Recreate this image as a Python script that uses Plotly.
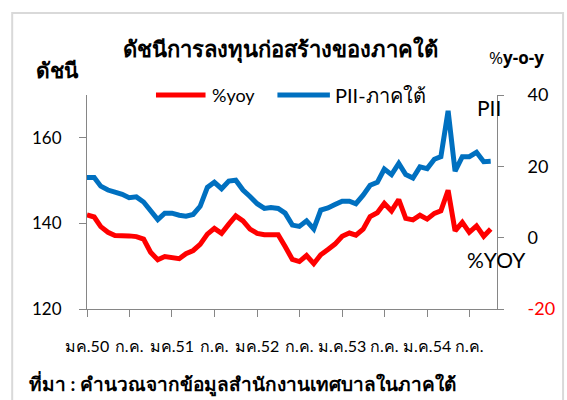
import pandas as pd
import plotly.graph_objects as go

# ---------------- data ----------------
months = pd.date_range("2007-01-01", periods=58, freq="MS")

pii_south = [150.7, 150.7, 148.7, 147.8, 147.3, 146.8, 146.0, 146.2, 145.0, 143.1,
             140.9, 142.4, 142.4, 141.9, 141.7, 142.1, 144.0, 148.4, 149.6, 148.1,
             149.9, 150.1, 147.8, 146.3, 144.6, 143.5, 143.7, 143.5, 142.4, 139.6,
             139.3, 140.6, 138.7, 143.1, 143.6, 144.4, 145.2, 145.2, 144.6, 146.6,
             148.9, 149.6, 152.7, 151.4, 154.0, 151.4, 150.6, 153.2, 152.8, 155.0,
             155.6, 166.3, 152.2, 155.6, 155.6, 156.6, 154.4, 154.5]

yoy = [6.4, 5.8, 3.1, 1.5, 0.6, 0.7, 0.5, 0.3, -0.4, -4.1,
       -6.2, -5.3, -5.5, -5.9, -4.5, -3.6, -1.9, 1.0, 2.6, 1.2,
       3.8, 6.1, 4.7, 2.4, 1.2, 0.8, 0.8, 0.8, -2.5, -6.1,
       -6.7, -5.0, -7.3, -4.8, -3.3, -1.8, 0.4, 1.3, 0.7, 2.4,
       5.9, 7.0, 9.6, 7.5, 10.7, 5.4, 5.0, 6.3, 5.2, 6.8,
       7.5, 13.3, 1.9, 4.3, 1.5, 3.3, 0.4, 2.4]

tick_dates = ["2007-01-01", "2007-07-01", "2008-01-01", "2008-07-01", "2009-01-01",
              "2009-07-01", "2010-01-01", "2010-07-01", "2011-01-01", "2011-07-01"]
tick_text = ["มค.50", "ก.ค.", "มค.51", "ก.ค.", "มค.52",
             "ก.ค.", "ม.ค.53", "ก.ค.", "ม.ค.54", "ก.ค."]

left_ticks = [120, 140, 160]
right_ticks = [-20, 0, 20, 40]
right_tick_text = ["<span style='color:#FF0000'>-20</span>", "0", "20", "40"]

title_text = "ดัชนีการลงทุนก่อสร้างของภาคใต้"
left_title = "ดัชนี"
right_title = "%<b>y-o-y</b>"
series_names = ["%yoy", "PII-ภาคใต้"]
source_text = "ที่มา : คำนวณจากข้อมูลสำนักงานเทศบาลในภาคใต้"

RED = "#FF0000"
BLUE = "#0070C0"
AXIS = "#868686"
FONT = "Lato, Tahoma, sans-serif"
FONT_BOLD_LATIN = "'Open Sans', Lato, sans-serif"

W, H = 567, 400
L, R, T, B = 87, 58, 95, 91
PW, PH = W - L - R, H - T - B


def px(x):
    return (x - L) / PW


def py(y):
    return (H - B - y) / PH


fig = go.Figure()
fig.add_trace(go.Scatter(x=months, y=pii_south, name=series_names[1], mode="lines",
                         line=dict(color=BLUE, width=5), yaxis="y"))
fig.add_trace(go.Scatter(x=months, y=yoy, name=series_names[0], mode="lines",
                         line=dict(color=RED, width=5), yaxis="y2"))

fig.update_layout(
    width=W, height=H,
    margin=dict(l=L, r=R, t=T, b=B),
    paper_bgcolor="white", plot_bgcolor="white",
    showlegend=False,
    font=dict(family=FONT, color="black"),
    xaxis=dict(type="date", range=["2007-01-01", "2011-10-28"],
               tickvals=tick_dates, ticktext=tick_text,
               showgrid=False, zeroline=False, showline=True, linecolor=AXIS, linewidth=1,
               ticks="outside", ticklen=7, tickcolor=AXIS,
               tickfont=dict(size=16, family=FONT), ticklabelstandoff=16),
    yaxis=dict(range=[120, 170], tickvals=left_ticks,
               showgrid=False, zeroline=False, showline=True, linecolor=AXIS, linewidth=1,
               ticks="outside", ticklen=7, tickcolor=AXIS,
               tickfont=dict(size=17, family=FONT),
               ticklabelstandoff=14),
    yaxis2=dict(range=[-20, 40], tickvals=right_ticks, ticktext=right_tick_text,
                overlaying="y", side="right", anchor="x",
                showgrid=False, zeroline=False, showline=True, linecolor=AXIS, linewidth=1,
                ticks="outside", ticklen=6, tickcolor=AXIS,
                tickfont=dict(size=18, family=FONT),
                ticklabelstandoff=20),
)

shapes = [
    # outer chart frame
    dict(type="rect", xref="paper", yref="paper",
         x0=px(10), x1=px(W + 10), y0=py(H + 10), y1=py(13),
         line=dict(color="#D9D9D9", width=2), fillcolor="rgba(0,0,0,0)", layer="below"),
    # legend samples
    dict(type="line", xref="paper", yref="paper", x0=px(158), x1=px(209), y0=py(95), y1=py(95),
         line=dict(color=RED, width=5)),
    dict(type="line", xref="paper", yref="paper", x0=px(283), x1=px(337), y0=py(95), y1=py(95),
         line=dict(color=BLUE, width=5)),
]
fig.update_layout(shapes=shapes)

ann = [
    dict(text="<b>" + title_text + "</b>", x=px(286), y=py(50), size=22, xanchor="center", fam=FONT),
    dict(text="<b>" + left_title + "</b>", x=px(57), y=py(70), size=21, xanchor="center", fam=FONT),
    dict(text=right_title, x=px(529), y=py(58), size=17, xanchor="center", fam=FONT_BOLD_LATIN),
    dict(text=series_names[0], x=px(214), y=py(95), size=18, xanchor="left", fam=FONT),
    dict(text=series_names[1], x=px(340), y=py(95), size=20, xanchor="left", fam=FONT),
    dict(text="PII", x=px(501), y=py(108), size=21, xanchor="center", fam=FONT),
    dict(text="%YOY", x=px(508), y=py(259), size=21, xanchor="center", fam=FONT),
    dict(text="<b>" + source_text + "</b>", x=px(25), y=py(384), size=19, xanchor="left", fam=FONT),
]
fig.update_layout(annotations=[
    dict(text=a["text"], x=a["x"], y=a["y"], xref="paper", yref="paper",
         xanchor=a["xanchor"], yanchor="middle", showarrow=False,
         font=dict(size=a["size"], family=a["fam"], color="black"))
    for a in ann
])

fig.write_html("out.html", config={"displayModeBar": False},
               post_script="document.body.style.margin='0';document.body.style.overflow='hidden';")
